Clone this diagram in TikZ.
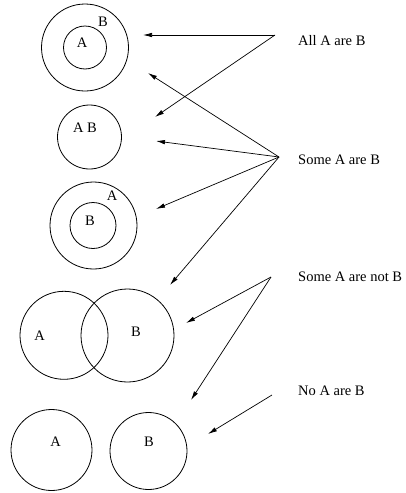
\documentclass[tikz,border=0pt]{standalone}
\usepackage{fontspec}
\setmainfont{Liberation Serif}
\usetikzlibrary{arrows.meta}
\begin{document}
\begin{tikzpicture}[x=1pt,y=-1pt,
  ring/.style={draw, circle, inner sep=0pt, line width=0.8pt},
  lbl/.style={inner sep=0pt, font=\fontsize{14.5}{17}\selectfont},
  stmt/.style={anchor=base west, inner sep=0pt, font=\fontsize{14.5}{17}\selectfont},
  ptr/.style={line width=0.7pt, -{Latex[length=9pt,width=4.5pt]}}]
\useasboundingbox (0,0) rectangle (406,493);

% A inside B
\node[ring, minimum size=87pt] (allB) at (85,47.5) {};
\node[ring, minimum size=43pt] (allA) at (85,47.5) {};
\node[lbl] (allAl) at (82,43) {A};
\node[lbl] (allBl) at (103,22) {B};

% A and B coincide
\node[ring, minimum size=64pt] (same) at (89.5,137) {};
\node[lbl] (samel) at (85,128) {A B};

% B inside A
\node[ring, minimum size=87pt] (insA) at (93.5,225.5) {};
\node[ring, minimum size=46pt] (insB) at (93,225.5) {};
\node[lbl] (insAl) at (112,195.5) {A};
\node[lbl] (insBl) at (90,221) {B};

% overlapping A and B
\node[ring, minimum size=88pt] (ovA) at (64,335.3) {};
\node[ring, minimum size=93pt] (ovB) at (127.5,335.5) {};
\node[lbl] (ovAl) at (39.5,336) {A};
\node[lbl] (ovBl) at (136,331.5) {B};

% disjoint A and B
\node[ring, minimum size=81pt] (djA) at (51.5,450) {};
\node[ring, minimum size=77pt] (djB) at (148.5,451) {};
\node[lbl] (djAl) at (55.5,441.5) {A};
\node[lbl] (djBl) at (149,441.5) {B};

% statements
\node[stmt] (all) at (298,45) {All A are B};
\node[stmt] (some) at (298,164) {Some A are B};
\node[stmt] (somenot) at (298,281) {Some A are not B};
\node[stmt] (none) at (298,395.5) {No A are B};

% arrow origins next to the statements
\coordinate (pAll) at (275,35);
\coordinate (pSome) at (279,157);
\coordinate (pNot) at (271,277);
\coordinate (pNone) at (272,395);

% arrow targets beside the diagrams
\coordinate (tAll1) at (143,35);
\coordinate (tAll2) at (155,117);
\coordinate (tSome1) at (148,73);
\coordinate (tSome2) at (156,141);
\coordinate (tSome3) at (156,209);
\coordinate (tSome4) at (170,285);
\coordinate (tNot1) at (186,323);
\coordinate (tNot2) at (191,400);
\coordinate (tNone) at (208,434);

\draw[ptr] (pAll) -- (tAll1);
\draw[ptr] (pAll) -- (tAll2);
\draw[ptr] (pSome) -- (tSome1);
\draw[ptr] (pSome) -- (tSome2);
\draw[ptr] (pSome) -- (tSome3);
\draw[ptr] (pSome) -- (tSome4);
\draw[ptr] (pNot) -- (tNot1);
\draw[ptr] (pNot) -- (tNot2);
\draw[ptr] (pNone) -- (tNone);
\end{tikzpicture}
\end{document}
